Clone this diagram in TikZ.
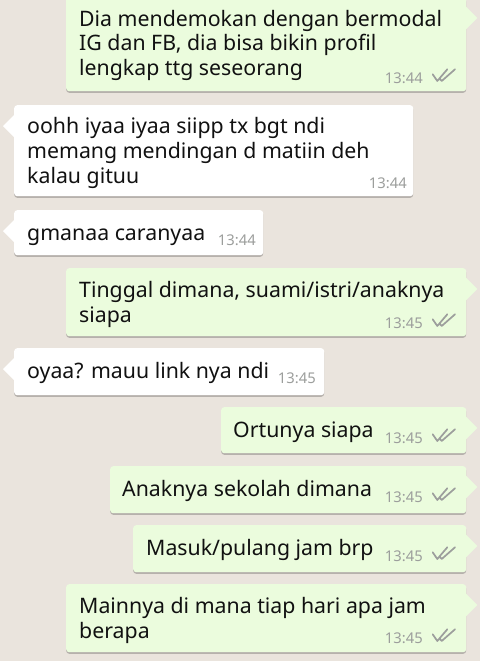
\documentclass[tikz,border=0pt]{standalone}
\usepackage{fontspec}
\setmainfont{Noto Sans}
\usetikzlibrary{shadows}
\definecolor{wall}{HTML}{EAE4DD}
\definecolor{outgreen}{HTML}{EBFCDD}
\definecolor{stamp}{HTML}{9C9E9C}
\definecolor{ink}{HTML}{111111}
\tikzset{
  bubble/.style={rounded corners=3pt,inner sep=0,anchor=north west,drop shadow={shadow xshift=0pt,shadow yshift=-1.6pt,opacity=.22,fill=black}},
  outbubble/.style={bubble,fill=outgreen},
  inbubble/.style={bubble,fill=white},
  msg/.style={inner sep=0,anchor=base west,align=left,text=ink,font=\fontsize{21.3}{25}\selectfont},
  stamptime/.style={inner sep=0,anchor=base east,text=stamp,font=\fontsize{14.8}{16}\selectfont},
  seen/.pic={\draw[stamp,line width=1.7pt,line cap=round,line join=round] (0.7,-8.7) -- (5.3,-2) -- (15.3,-13.7) (7.5,-4.5) -- (9.7,-2) -- (23,-13.7);}
}
\begin{document}
\begin{tikzpicture}[x=1pt,y=-1pt]
        \fill[wall] (0,0) rectangle (480,661);
        \useasboundingbox (0,0) rectangle (480,661);
        % bubbles
        \node[outbubble,minimum width=400pt,minimum height=94pt] at (66,-3) (b1) {};
        \node[inbubble,minimum width=399pt,minimum height=91pt] at (14,105) (b2) {};
        \node[inbubble,minimum width=249pt,minimum height=45pt] at (14,210) (b3) {};
        \node[outbubble,minimum width=400pt,minimum height=68pt] at (66,268) (b4) {};
        \node[inbubble,minimum width=310pt,minimum height=47pt] at (14,348) (b5) {};
        \node[outbubble,minimum width=245pt,minimum height=46pt] at (221,407) (b6) {};
        \node[outbubble,minimum width=356pt,minimum height=47pt] at (110,466) (b7) {};
        \node[outbubble,minimum width=333pt,minimum height=47pt] at (133,525) (b8) {};
        \node[outbubble,minimum width=400pt,minimum height=68pt] at (66,584) (b9) {};
        \foreach \b in {b1,b4,b6,b7,b8,b9}
          \fill[outgreen] (\b.north east) ++(-1,9) -- ++(12,12) -- ++(-12,12) -- cycle;
        \foreach \b in {b2,b3,b5}
          \fill[white] (\b.north west) ++(1,9) -- ++(-12,12) -- ++(12,12) -- cycle;
        % messages (base = last line)
        \node[msg] at (79,76) (t1) {Dia mendemokan dengan bermodal\\IG dan FB, dia bisa bikin profil\\lengkap ttg seseorang};
        \node[msg] at (27,183) (t2) {oohh iyaa iyaa siipp tx bgt ndi\\memang mendingan d matiin deh\\kalau gituu};
        \node[msg] at (27,240) (t3) {gmanaa caranyaa};
        \node[msg] at (79,322) (t4) {Tinggal dimana, suami/istri/anaknya\\siapa};
        \node[msg] at (27,378) (t5) {oyaa? mauu link nya ndi};
        \node[msg] at (233,437) (t6) {Ortunya siapa};
        \node[msg] at (122,496) (t7) {Anaknya sekolah dimana};
        \node[msg] at (146,555) (t8) {Masuk/pulang jam brp};
        \node[msg] at (79,638) (t9) {Mainnya di mana tiap hari apa jam\\berapa};
        % times and ticks
        \node[stamptime] at (423,83) (h1) {13:44};
        \node[stamptime] at (407,188) (h2) {13:44};
        \node[stamptime] at (256,245) (h3) {13:44};
        \node[stamptime] at (423,328) (h4) {13:45};
        \node[stamptime] at (316,383) (h5) {13:45};
        \node[stamptime] at (423,443) (h6) {13:45};
        \node[stamptime] at (423,502) (h7) {13:45};
        \node[stamptime] at (423,561) (h8) {13:45};
        \node[stamptime] at (423,643) (h9) {13:45};
        \foreach \y in {83,328,443,502,561,643}
          \pic at (432,\y) {seen};
\end{tikzpicture}
\end{document}
